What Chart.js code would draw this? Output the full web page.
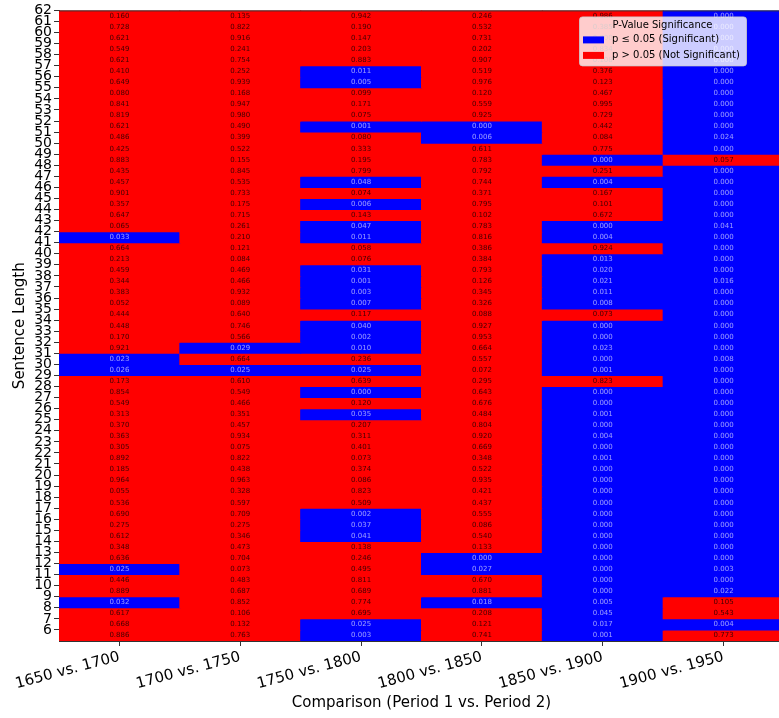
<!DOCTYPE html>
<html>
<head>
<meta charset="utf-8">
<script src="https://cdn.jsdelivr.net/npm/chart.js@4"></script>
<style>
  html, body { margin: 0; padding: 0; overflow: hidden; background: #fff; }
  #wrap { width: 790px; height: 718px; }
</style>
</head>
<body>
<div id="wrap"><canvas id="heat"></canvas></div>
<script>
// comparisons on x, sentence lengths on y (top to bottom)
const comparisons = ["1650 vs. 1700", "1700 vs. 1750", "1750 vs. 1800", "1800 vs. 1850", "1850 vs. 1900", "1900 vs. 1950"];
const lengths = [62, 61, 60, 59, 58, 57, 56, 55, 54, 53, 52, 51, 50, 49, 48, 47, 46, 45, 44, 43, 42, 41, 40, 39, 38, 37, 36, 35, 34, 33, 32, 31, 30, 29, 28, 27, 26, 25, 24, 23, 22, 21, 20, 19, 18, 17, 16, 15, 14, 13, 12, 11, 10, 9, 8, 7, 6];

// p-values, one array per comparison, same order as lengths
const p1650_1700 = [0.160, 0.728, 0.621, 0.549, 0.621, 0.410, 0.649, 0.080, 0.841, 0.819, 0.621, 0.486, 0.425, 0.883,
  0.435, 0.457, 0.901, 0.357, 0.647, 0.065, 0.033, 0.664, 0.213, 0.459, 0.344, 0.383, 0.052, 0.444,
  0.448, 0.170, 0.921, 0.023, 0.026, 0.173, 0.854, 0.549, 0.313, 0.370, 0.363, 0.305, 0.892, 0.185, 0.964,
  0.055, 0.536, 0.690, 0.275, 0.612, 0.348, 0.636, 0.025, 0.446, 0.889, 0.032, 0.617, 0.668, 0.886];
const p1700_1750 = [0.135, 0.822, 0.916, 0.241, 0.754, 0.252, 0.939, 0.168, 0.947, 0.980, 0.490, 0.399, 0.522, 0.155,
  0.845, 0.535, 0.733, 0.175, 0.715, 0.261, 0.210, 0.121, 0.084, 0.469, 0.466, 0.932, 0.089, 0.640,
  0.746, 0.566, 0.029, 0.664, 0.025, 0.610, 0.549, 0.466, 0.351, 0.457, 0.934, 0.075, 0.822, 0.438, 0.963,
  0.328, 0.597, 0.709, 0.275, 0.346, 0.473, 0.704, 0.073, 0.483, 0.687, 0.852, 0.106, 0.132, 0.763];
const p1750_1800 = [0.942, 0.190, 0.147, 0.203, 0.883, 0.011, 0.005, 0.099, 0.171, 0.075, 0.001, 0.080, 0.333, 0.195,
  0.799, 0.048, 0.074, 0.006, 0.143, 0.047, 0.011, 0.058, 0.076, 0.031, 0.001, 0.003, 0.007, 0.117,
  0.040, 0.002, 0.010, 0.236, 0.025, 0.639, 0.000, 0.120, 0.035, 0.207, 0.311, 0.401, 0.073, 0.374, 0.086,
  0.823, 0.509, 0.002, 0.037, 0.041, 0.138, 0.246, 0.495, 0.811, 0.689, 0.774, 0.695, 0.025, 0.003];
const p1800_1850 = [0.246, 0.532, 0.731, 0.202, 0.907, 0.519, 0.976, 0.120, 0.559, 0.925, 0.000, 0.006, 0.611, 0.783,
  0.792, 0.744, 0.371, 0.795, 0.102, 0.783, 0.816, 0.386, 0.384, 0.793, 0.126, 0.345, 0.326, 0.088,
  0.927, 0.953, 0.664, 0.557, 0.072, 0.295, 0.643, 0.676, 0.484, 0.804, 0.920, 0.669, 0.348, 0.522, 0.935,
  0.421, 0.437, 0.555, 0.086, 0.540, 0.133, 0.000, 0.027, 0.670, 0.881, 0.018, 0.208, 0.121, 0.741];
const p1850_1900 = [0.986, 0.385, 0.700, 0.834, 0.108, 0.376, 0.123, 0.467, 0.995, 0.729, 0.442, 0.084, 0.775, 0.000,
  0.251, 0.004, 0.167, 0.101, 0.672, 0.000, 0.004, 0.924, 0.013, 0.020, 0.021, 0.011, 0.008, 0.073,
  0.000, 0.000, 0.023, 0.000, 0.001, 0.823, 0.000, 0.000, 0.001, 0.000, 0.004, 0.000, 0.001, 0.000, 0.000,
  0.000, 0.000, 0.000, 0.000, 0.000, 0.000, 0.000, 0.000, 0.000, 0.000, 0.005, 0.045, 0.017, 0.001];
const p1900_1950 = [0.000, 0.000, 0.000, 0.000, 0.000, 0.000, 0.000, 0.000, 0.000, 0.000, 0.000, 0.024, 0.000, 0.057,
  0.000, 0.000, 0.000, 0.000, 0.000, 0.041, 0.000, 0.000, 0.000, 0.000, 0.016, 0.000, 0.000, 0.000,
  0.000, 0.000, 0.000, 0.008, 0.000, 0.000, 0.000, 0.000, 0.000, 0.000, 0.000, 0.000, 0.000, 0.000, 0.000,
  0.000, 0.000, 0.000, 0.000, 0.000, 0.000, 0.000, 0.003, 0.000, 0.022, 0.105, 0.543, 0.004, 0.773];

const columns = [p1650_1700, p1700_1750, p1750_1800, p1800_1850, p1850_1900, p1900_1950];
const alpha = 0.05;
const BLUE = "#0000ff";
const RED = "#ff0000";
const FONT = "DejaVu Sans";

// one dataset per sentence length, a floating bar [L-1, L] in each comparison
const datasets = lengths.map((len, i) => ({
  label: String(len),
  data: comparisons.map(() => [len - 1, len]),
  backgroundColor: columns.map(col => col[i] <= alpha ? BLUE : RED),
  borderWidth: 0,
  grouped: false,
  barPercentage: 1,
  categoryPercentage: 1,
  inflateAmount: 0.5,
}));

const cellText = {
  id: "cellText",
  afterDatasetsDraw(chart) {
    const {ctx, scales: {x, y}} = chart;
    ctx.save();
    ctx.font = `7px "${FONT}"`;
    ctx.textAlign = "center";
    ctx.textBaseline = "middle";
    columns.forEach((col, c) => {
      col.forEach((p, i) => {
        ctx.fillStyle = p <= alpha ? "rgba(255,255,255,0.6)" : "rgba(0,0,0,0.75)";
        ctx.fillText(p.toFixed(3), x.getPixelForValue(c), y.getPixelForValue(lengths[i] - 0.5));
      });
    });
    ctx.restore();
  }
};

// top spine + legend box
const frameAndLegend = {
  id: "frameAndLegend",
  afterDraw(chart) {
    const {ctx, chartArea: ca} = chart;
    ctx.save();
    ctx.strokeStyle = "#333";
    ctx.lineWidth = 1;
    ctx.beginPath();
    ctx.moveTo(ca.left, ca.top + 0.5);
    ctx.lineTo(ca.right, ca.top + 0.5);
    ctx.stroke();

    const left = ca.right - 205, top = ca.top + 6, w = 167, h = 49;
    ctx.fillStyle = "rgba(255,255,255,0.8)";
    ctx.strokeStyle = "rgba(204,204,204,0.8)";
    ctx.beginPath();
    ctx.roundRect(left + 0.5, top + 0.5, w, h, 3);
    ctx.fill();
    ctx.stroke();

    ctx.fillStyle = "#000";
    ctx.font = `10px "${FONT}"`;
    ctx.textBaseline = "middle";
    ctx.textAlign = "center";
    ctx.fillText("P-Value Significance", left + w / 2, top + 9);
    ctx.textAlign = "left";
    const items = [[BLUE, "p \u2264 0.05 (Significant)"], [RED, "p > 0.05 (Not Significant)"]];
    items.forEach(([color, text], k) => {
      const cy = top + 23.5 + k * 15.5;
      ctx.fillStyle = color;
      ctx.fillRect(left + 4, cy - 3.5, 21, 7);
      ctx.fillStyle = "#000";
      ctx.fillText(text, left + 33, cy);
    });
    ctx.restore();
  }
};

new Chart(document.getElementById("heat"), {
  type: "bar",
  data: {labels: comparisons, datasets: datasets},
  options: {
    responsive: true,
    maintainAspectRatio: false,
    animation: false,
    devicePixelRatio: 1,
    layout: {padding: {top: 6, right: 6, left: 0, bottom: 0}},
    plugins: {legend: {display: false}, tooltip: {enabled: false}},
    scales: {
      x: {
        type: "category",
        offset: true,
        grid: {drawOnChartArea: false, offset: false, tickLength: 5, color: "#333"},
        border: {color: "#333"},
        ticks: {font: {family: FONT, size: 15}, color: "#000", minRotation: 15, maxRotation: 15, autoSkip: false, padding: 2},
        title: {display: true, text: "Comparison (Period 1 vs. Period 2)", font: {family: FONT, size: 15}, color: "#000", padding: {top: 0, bottom: 6}},
        afterFit(s) { s.height = 77; }
      },
      y: {
        type: "linear",
        min: 5,
        max: 62,
        afterBuildTicks(s) { s.ticks = lengths.map(v => ({value: v})); },
        grid: {drawOnChartArea: false, tickLength: 5, color: "#333"},
        border: {color: "#333"},
        ticks: {font: {family: FONT, size: 14}, color: "#000", autoSkip: false, padding: 2},
        title: {display: true, text: "Sentence Length", font: {family: FONT, size: 15}, color: "#000", padding: {top: 11, bottom: 0}},
        afterFit(s) { s.width = 59; }
      }
    }
  },
  plugins: [cellText, frameAndLegend]
});
</script>
</body>
</html>
